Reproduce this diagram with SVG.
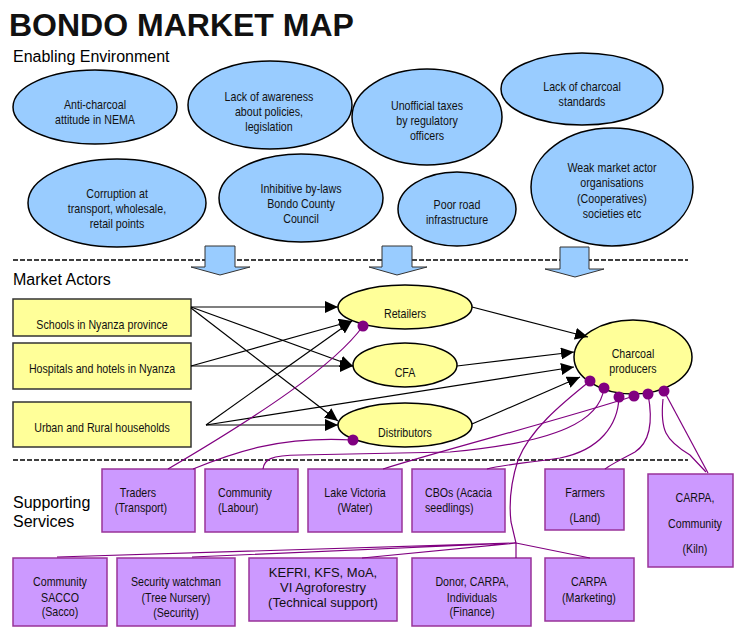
<svg xmlns="http://www.w3.org/2000/svg" width="735" height="627" viewBox="0 0 735 627">
<defs>
<style>
.env ellipse{fill:#99CCFF;stroke:#000;stroke-width:1.5}
.act rect{fill:#FFFF99;stroke:#333;stroke-width:1.5}
.act ellipse{fill:#FFFF99;stroke:#000;stroke-width:1.5}
.sup rect{fill:#CC99FF;stroke:#993399;stroke-width:1.5}
text{font-family:"Liberation Sans",Arial,sans-serif;font-size:13px;fill:#111;transform-box:fill-box;transform-origin:center;transform:scaleX(0.82)}
text.s{transform-origin:left center}
.m{text-anchor:middle}
.hd{font-size:16px;fill:#000;transform:none}
.title{font-size:32px;font-weight:bold;fill:#111;transform:none}
.reg{transform:none}
.dash{stroke:#000;stroke-width:1.5;stroke-dasharray:5,2;fill:none}
.blk{fill:#99CCFF;stroke:#333;stroke-width:1}
.ar{stroke:#000;stroke-width:1.2;fill:none;marker-end:url(#ah)}
.pl{stroke:#800080;stroke-width:1.2;fill:none}
.dot{fill:#800080}
</style>
<marker id="ah" markerUnits="userSpaceOnUse" markerWidth="14" markerHeight="12" refX="13" refY="6" orient="auto">
<path d="M0,0 L13,6 L0,12 Z" fill="#000"/>
</marker>
</defs>
<rect width="735" height="627" fill="#fff"/>
<text class="title" x="9" y="36">BONDO MARKET MAP</text>
<text class="hd" x="13" y="62">Enabling Environment</text>
<text class="hd" x="13" y="285">Market Actors</text>
<text class="hd" x="13" y="508">Supporting</text>
<text class="hd" x="13" y="527">Services</text>

<g class="env">
<g id="env1"><ellipse cx="95" cy="107" rx="82" ry="37"/><text class="m" x="95" y="109">Anti-charcoal</text><text class="m" x="95" y="124">attitude in NEMA</text></g>
<g id="env2"><ellipse cx="270" cy="105" rx="82" ry="44"/><text class="m" x="269" y="101">Lack of awareness</text><text class="m" x="269" y="116">about policies,</text><text class="m" x="269" y="131">legislation</text></g>
<g id="env3"><ellipse cx="427" cy="117" rx="75" ry="48"/><text class="m" x="427" y="110">Unofficial taxes</text><text class="m" x="427" y="125">by regulatory</text><text class="m" x="427" y="140">officers</text></g>
<g id="env4"><ellipse cx="582" cy="89" rx="81" ry="36"/><text class="m" x="582" y="91">Lack of charcoal</text><text class="m" x="582" y="106">standards</text></g>
<g id="env5"><ellipse cx="117" cy="203" rx="89" ry="44"/><text class="m" x="117" y="198">Corruption at</text><text class="m" x="117" y="213">transport, wholesale,</text><text class="m" x="117" y="228">retail points</text></g>
<g id="env6"><ellipse cx="301" cy="198" rx="82" ry="44"/><text class="m" x="301" y="193">Inhibitive by-laws</text><text class="m" x="301" y="208">Bondo County</text><text class="m" x="301" y="223">Council</text></g>
<g id="env7"><ellipse cx="457" cy="209" rx="59" ry="37"/><text class="m" x="457" y="209">Poor road</text><text class="m" x="457" y="224">infrastructure</text></g>
<g id="env8"><ellipse cx="612" cy="187" rx="81" ry="59"/><text class="m" x="612" y="172">Weak market actor</text><text class="m" x="612" y="187">organisations</text><text class="m" x="612" y="203">(Cooperatives)</text><text class="m" x="612" y="218">societies etc</text></g>
</g>

<line class="dash" x1="13" y1="260" x2="688" y2="260"/>
<line class="dash" x1="13" y1="460" x2="688" y2="460"/>

<g id="blockarrows">
<polygon class="blk" points="205,246 235,246 235,267 250,267 220,275 191,267 205,267"/>
<polygon class="blk" points="382,246 412,246 412,267 427,267 397,275 369,267 382,267"/>
<polygon class="blk" points="560,247 589,247 589,269 604,269 575,277 545,269 560,269"/>
</g>

<g class="act">
<g id="schools"><rect x="13" y="299" width="178" height="37"/><text class="m" x="102" y="329">Schools in Nyanza province</text></g>
<g id="hospitals"><rect x="13" y="343" width="178" height="46"/><text class="m" x="102" y="373">Hospitals and hotels in Nyanza</text></g>
<g id="households"><rect x="13" y="402" width="178" height="45"/><text class="m" x="102" y="432">Urban and Rural households</text></g>
<g id="retailers"><ellipse cx="405" cy="307" rx="67" ry="22"/><text class="m" x="405" y="318">Retailers</text></g>
<g id="cfa"><ellipse cx="405" cy="365" rx="52" ry="22"/><text class="m" x="405" y="377">CFA</text></g>
<g id="distributors"><ellipse cx="405" cy="425" rx="67" ry="22"/><text class="m" x="405" y="437">Distributors</text></g>
<g id="producers"><ellipse cx="633" cy="357" rx="59" ry="37"/><text class="m" x="633" y="358">Charcoal</text><text class="m" x="633" y="373">producers</text></g>
</g>

<g class="sup">
<g id="traders"><rect x="102" y="469" width="93" height="63"/><text class="m" x="138" y="497">Traders</text><text class="m" x="141" y="512">(Transport)</text></g>
<g id="labour"><rect x="205" y="469" width="93" height="63"/><text class="s" x="218" y="497">Community</text><text class="s" x="218" y="512">(Labour)</text></g>
<g id="water"><rect x="308" y="469" width="94" height="63"/><text class="m" x="355" y="497">Lake Victoria</text><text class="m" x="355" y="512">(Water)</text></g>
<g id="cbos"><rect x="412" y="469" width="93" height="63"/><text class="s" x="425" y="497">CBOs (Acacia</text><text class="s" x="425" y="512">seedlings)</text></g>
<g id="farmers"><rect x="545" y="469" width="79" height="61"/><text class="m" x="585" y="497">Farmers</text><text class="m" x="585" y="522">(Land)</text></g>
<g id="kiln"><rect x="648" y="474" width="85" height="93"/><text class="m" x="695" y="502">CARPA,</text><text class="m" x="695" y="528">Community</text><text class="m" x="695" y="553">(Kiln)</text></g>
<g id="sacco"><rect x="13" y="558" width="94" height="68"/><text class="m" x="60" y="586">Community</text><text class="m" x="60" y="602">SACCO</text><text class="m" x="60" y="616">(Sacco)</text></g>
<g id="security"><rect x="117" y="558" width="118" height="68"/><text class="m" x="176" y="586">Security watchman</text><text class="m" x="176" y="602">(Tree Nursery)</text><text class="m" x="176" y="617">(Security)</text></g>
<g id="technical"><rect x="249" y="558" width="148" height="63"/><text class="m reg" x="323" y="577">KEFRI, KFS, MoA,</text><text class="m reg" x="323" y="592">VI Agroforestry</text><text class="m reg" x="323" y="607">(Technical support)</text></g>
<g id="finance"><rect x="412" y="558" width="119" height="68"/><text class="m" x="472" y="586">Donor, CARPA,</text><text class="m" x="472" y="602">Individuals</text><text class="m" x="472" y="616">(Finance)</text></g>
<g id="marketing"><rect x="545" y="558" width="89" height="63"/><text class="m" x="589" y="586">CARPA</text><text class="m" x="589" y="602">(Marketing)</text></g>
</g>

<g id="connectors">
<line class="ar" x1="191" y1="307" x2="338" y2="307"/>
<line class="ar" x1="191" y1="307" x2="353" y2="366"/>
<line class="ar" x1="191" y1="308" x2="338" y2="421"/>
<line class="ar" x1="191" y1="366" x2="352" y2="321"/>
<line class="ar" x1="191" y1="366" x2="353" y2="366"/>
<line class="ar" x1="206" y1="425" x2="352" y2="321"/>
<line class="ar" x1="206" y1="425" x2="338" y2="425"/>
<line class="ar" x1="206" y1="425" x2="574" y2="367"/>
<line class="ar" x1="472" y1="307" x2="588" y2="337"/>
<line class="ar" x1="457" y1="366" x2="574" y2="352"/>
<line class="ar" x1="472" y1="424" x2="580" y2="377"/>

<path class="pl" d="M363,326 C335,365 260,415 168,469"/>
<path class="pl" d="M353,440 C280,436 235,452 193,469"/>
<path class="pl" d="M604,388 C600,420 560,442 450,452 L300,455 C270,455 264,460 263,469"/>
<path class="pl" d="M634,396 C560,420 450,448 383,469"/>
<path class="pl" d="M619,397 C618,425 600,450 560,458 C520,464 500,465 487,469"/>
<path class="pl" d="M648,394 C652,415 653,440 635,452 C620,460 610,465 605,469"/>
<path class="pl" d="M664,391 L708,473"/>
<path class="pl" d="M663,399 C660,430 665,440 690,455 L706,472"/>
<path class="pl" d="M590,381 C560,405 530,430 518,460 C510,485 509,505 511,522 L516,543 L516,558"/>
<path class="pl" d="M516,543 L590,558 M516,543 L362,558 M516,543 L192,557 M516,543 L57,557"/>

<circle class="dot" cx="363" cy="326" r="5.5"/>
<circle class="dot" cx="353" cy="440" r="5.5"/>
<circle class="dot" cx="590" cy="381" r="5.5"/>
<circle class="dot" cx="604" cy="388" r="5.5"/>
<circle class="dot" cx="619" cy="397" r="5.5"/>
<circle class="dot" cx="634" cy="396" r="5.5"/>
<circle class="dot" cx="648" cy="394" r="5.5"/>
<circle class="dot" cx="664" cy="391" r="5.5"/>
</g>
</svg>
